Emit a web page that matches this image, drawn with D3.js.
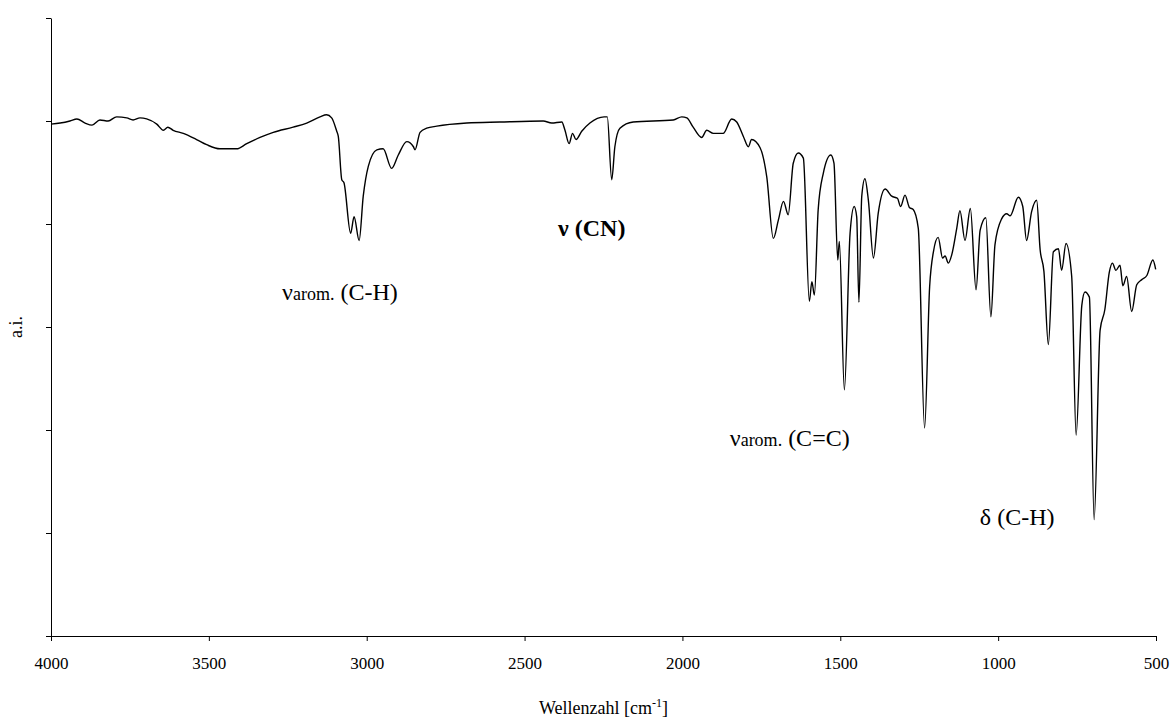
<!DOCTYPE html>
<html>
<head>
<meta charset="utf-8">
<script src="https://cdn.jsdelivr.net/npm/d3@7"></script>
<style>
  html, body { margin: 0; padding: 0; background: #fff; }
  svg { display: block; font-family: "Liberation Serif", "Times New Roman", serif; }
</style>
</head>
<body>
<svg id="chart" width="1171" height="722"></svg>
<script>
// Wavenumbers [cm^-1]
const wavenumbers = [4000,3971,3940,3918,3892,3870,3845,3819,3792,3760,3740,3718,3697,3665,3644,3630,3613,3581,3539,3507,3465,3412,3380,3338,3296,3233,3190,3148,3127,3111,3095,3090,3079,3072,3051,3040,3024,3011,2995,2968,2948,2921,2900,2873,2852,2847,2831,2810,2778,2683,2578,2441,2414,2382,2372,2359,2348,2337,2319,2293,2248,2238,2224,2214,2198,2156,2029,2002,1986,1966,1939,1923,1902,1871,1844,1828,1807,1791,1781,1754,1733,1712,1696,1680,1665,1649,1633,1617,1598,1590,1582,1570,1554,1530,1520,1508,1503,1487,1469,1456,1448,1441,1432,1422,1411,1395,1380,1358,1337,1319,1309,1295,1281,1269,1253,1233,1217,1205,1190,1176,1168,1158,1147,1131,1121,1105,1088,1070,1057,1039,1023,1010,989,973,962,936,922,910,894,878,867,855,841,825,809,799,785,767,753,735,725,711,696,677,662,648,638,627,614,605,593,577,561,545,529,510,501];
// Intensity (arbitrary units)
const intensity = [49.7,49.8,50.0,50.2,49.8,49.6,50.1,50.0,50.4,50.3,50.1,50.3,50.2,49.7,49.1,49.4,49.1,48.8,48.2,47.7,47.3,47.3,47.8,48.4,48.9,49.4,49.8,50.4,50.6,50.3,49.0,48.5,44.3,44.0,39.1,40.7,38.4,42.7,45.6,47.2,47.3,45.4,46.7,48.0,47.5,47.2,48.9,49.3,49.5,49.8,49.9,50.0,49.8,49.9,49.1,47.8,48.8,48.2,49.0,49.8,50.4,50.4,44.3,47.5,49.3,49.9,50.1,50.4,50.3,49.4,48.4,49.1,48.8,48.8,50.2,49.9,48.5,47.5,48.2,47.4,44.6,38.6,40.4,42.2,40.9,45.9,46.9,46.4,32.5,34.4,33.1,41.4,44.9,46.7,45.9,36.5,38.3,23.9,39.1,41.7,40.7,32.4,42.7,44.4,42.3,36.7,41.0,43.4,42.7,42.5,41.7,42.8,41.6,41.4,39.6,20.2,33.9,37.3,38.7,36.7,36.9,36.2,37.0,39.6,41.3,38.4,41.5,33.6,39.4,40.6,31.0,38.0,40.5,41.0,40.8,42.6,41.7,38.4,41.2,42.3,37.5,35.4,28.3,37.3,37.6,35.5,38.1,34.9,19.5,32.1,33.4,32.9,11.3,29.7,31.7,35.3,36.2,35.5,36.0,34.0,34.9,31.5,34.1,34.6,35.0,36.5,35.6];

const xTicks = [4000,3500,3000,2500,2000,1500,1000,500];
const yTicks = [0,10,20,30,40,50,60];

const xTitle = "Wellenzahl [cm";
const xTitleSup = "-1";
const yTitle = "a.i.";

const annotations = [
  {wn: 3268, val: 32.6, greek: "ν", sub: "arom.", rest: " (C-H)", bold: false},
  {wn: 2394, val: 38.8, greek: "ν", sub: "", rest: " (CN)", bold: true},
  {wn: 1850, val: 18.4, greek: "ν", sub: "arom.", rest: " (C=C)", bold: false},
  {wn: 1058, val: 10.8, greek: "δ", sub: "", rest: " (C-H)", bold: false}
];

const svg = d3.select("#chart");
const mLeft = 51, mRight = 1156, mTop = 18, mBottom = 636;

const x = d3.scaleLinear().domain([4000, 500]).range([mLeft, mRight]);
const y = d3.scaleLinear().domain([0, 60]).range([mBottom, mTop]);

const xAxis = d3.axisBottom(x).tickValues(xTicks).tickFormat(d3.format("d"))
  .tickSize(5).tickPadding(16).tickSizeOuter(0);
const gx = svg.append("g").attr("transform", `translate(0,${mBottom})`).call(xAxis)
  .attr("font-family", "Liberation Serif").attr("font-size", 17);
gx.selectAll("text").attr("fill", "#000");
gx.selectAll("line, path").attr("stroke", "#000");

const yAxis = d3.axisLeft(y).tickValues(yTicks).tickSize(5).tickFormat("").tickSizeOuter(0);
const gy = svg.append("g").attr("transform", `translate(${mLeft},0)`).call(yAxis);
gy.selectAll("line, path").attr("stroke", "#000");

const line = d3.line()
  .x((d, i) => x(wavenumbers[i]))
  .y((d, i) => y(intensity[i]))
  .curve(d3.curveMonotoneX);
svg.append("path")
  .datum(intensity)
  .attr("d", line)
  .attr("fill", "none")
  .attr("stroke", "#000")
  .attr("stroke-width", 1.4)
  .attr("stroke-linejoin", "round");

const xt = svg.append("text")
  .attr("x", (mLeft + mRight) / 2)
  .attr("y", 714)
  .attr("text-anchor", "middle")
  .attr("font-family", "Liberation Serif")
  .attr("font-size", 18)
  .attr("fill", "#000");
xt.append("tspan").text(xTitle);
xt.append("tspan").attr("font-size", 12).attr("dy", -7).text(xTitleSup);
xt.append("tspan").attr("dy", 7).text("]");

svg.append("text")
  .attr("transform", `translate(22,${(mTop + mBottom) / 2}) rotate(-90)`)
  .attr("text-anchor", "middle")
  .attr("font-family", "Liberation Serif")
  .attr("font-size", 18)
  .attr("fill", "#000")
  .text(yTitle);

annotations.forEach(a => {
  const t = svg.append("text")
    .attr("x", x(a.wn))
    .attr("y", y(a.val))
    .attr("font-family", "Liberation Serif")
    .attr("font-size", 24)
    .attr("font-weight", a.bold ? "bold" : "normal")
    .attr("fill", "#000");
  t.append("tspan").text(a.greek);
  if (a.sub) t.append("tspan").attr("font-size", 18).text(a.sub);
  t.append("tspan").text(a.rest);
});
</script>
</body>
</html>
